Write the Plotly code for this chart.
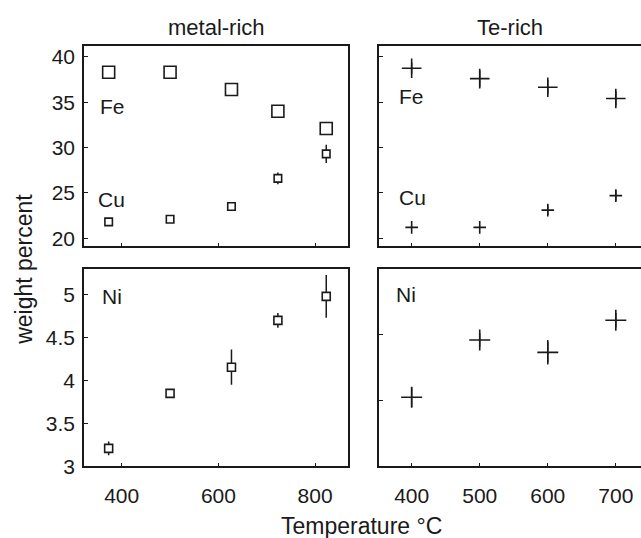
import plotly.graph_objects as go

# ---------------- data ----------------
temp_metal = [373, 500, 627, 723, 823]
fe_metal = [38.3, 38.3, 36.4, 34.0, 32.1]
cu_metal = [21.8, 22.1, 23.5, 26.6, 29.3]
cu_metal_err = [0, 0, 0, 0.65, 1.0]
ni_metal = [3.21, 3.85, 4.155, 4.70, 4.98]
ni_metal_err = [0.08, 0, 0.205, 0.085, 0.25]

temp_te = [400, 500, 600, 700]
fe_te = [38.75, 37.6, 36.65, 35.4]
fe_te_err = [0.6, 0.9, 0.8, 0.8]
cu_te = [21.2, 21.2, 23.1, 24.7]
cu_te_err = [0, 0, 0.55, 0.58]
ni_te = [4.025, 4.46, 4.366, 4.61]
ni_te_err = [0.074, 0.052, 0.093, 0.055]

metal_xticks = [400, 600, 800]
te_xticks = [400, 500, 600, 700]
top_yticks = [20, 25, 30, 35, 40]
ni_metal_yticks = [3, 3.5, 4, 4.5, 5]
ni_te_yticks = [4, 4.5]

W, H = 641, 538
FONT = "Liberation Sans, Arial, sans-serif"
INK = "#1a1a1a"

fig = go.Figure()

def sq(x, y, err, size, xa, ya):
    kw = {}
    if err is not None:
        kw["error_y"] = dict(type="data", array=err, visible=True, width=0,
                             thickness=1.5, color=INK)
    fig.add_trace(go.Scatter(x=x, y=y, mode="markers", xaxis=xa, yaxis=ya,
                             marker=dict(symbol="square", size=size, color="white",
                                         line=dict(color=INK, width=1.6)),
                             showlegend=False, **kw))

def plus(x, y, err, size, xa, ya):
    kw = {}
    if err is not None:
        kw["error_y"] = dict(type="data", array=err, visible=True, width=0,
                             thickness=1.5, color=INK)
    fig.add_trace(go.Scatter(x=x, y=y, mode="markers", xaxis=xa, yaxis=ya,
                             marker=dict(symbol="cross-thin-open", size=size, color=INK,
                                         line=dict(color=INK, width=1.6)),
                             showlegend=False, **kw))

sq(temp_metal, fe_metal, None, 12, "x", "y")
sq(temp_metal, cu_metal, cu_metal_err, 7.5, "x", "y")
plus(temp_te, fe_te, fe_te_err, 14, "x2", "y2")
plus(temp_te, cu_te, cu_te_err, 9, "x2", "y2")
sq(temp_metal, ni_metal, ni_metal_err, 8, "x3", "y3")
plus(temp_te, ni_te, ni_te_err, 15, "x4", "y4")

xl = [84 / W, 348 / W]
xr = [379 / W, 1.0]
yt = [1 - 251 / H, 1 - 46 / H]
yb = [1 - 476 / H, 1 - 274 / H]

axcommon = dict(showgrid=False, zeroline=False, showline=True, linecolor=INK,
                linewidth=1.5, ticks="inside", ticklen=4, tickwidth=1.3,
                tickcolor=INK, tickfont=dict(family=FONT, size=21, color=INK))

fig.update_layout(
    width=W, height=H,
    margin=dict(l=0, r=0, t=0, b=0),
    paper_bgcolor="white", plot_bgcolor="white",
    font=dict(family=FONT, color=INK),
    xaxis=dict(domain=xl, anchor="y", range=[322, 868], tickvals=metal_xticks,
               showticklabels=False, mirror=True, **axcommon),
    yaxis=dict(domain=yt, anchor="x", range=[19.1, 41.2], tickvals=top_yticks,
               mirror=True, ticklabelstandoff=3, **axcommon),
    xaxis2=dict(domain=xr, anchor="y2", range=[352, 737], tickvals=te_xticks,
                showticklabels=False, mirror=True, **axcommon),
    yaxis2=dict(domain=yt, anchor="x2", range=[19.1, 41.2], tickvals=top_yticks,
                showticklabels=False, mirror=False, **axcommon),
    xaxis3=dict(domain=xl, anchor="y3", range=[322, 868], tickvals=metal_xticks,
                mirror=True, ticklabelstandoff=10, **axcommon),
    yaxis3=dict(domain=yb, anchor="x3", range=[3, 5.3], tickvals=ni_metal_yticks,
                mirror=True, ticklabelstandoff=3, **axcommon),
    xaxis4=dict(domain=xr, anchor="y4", range=[352, 737], tickvals=te_xticks,
                mirror=True, ticklabelstandoff=10, **axcommon),
    yaxis4=dict(domain=yb, anchor="x4", range=[3.5, 5.0], tickvals=ni_te_yticks,
                showticklabels=False, mirror=False, **axcommon),
)

def note(text, x, y, size=21, yanchor="middle", **kw):
    fig.add_annotation(text=text, x=x, y=y, xref="paper", yref="paper",
                       xanchor="center", yanchor=yanchor,
                       showarrow=False, font=dict(family=FONT, size=size, color=INK), **kw)

note("metal-rich", 216 / W, 1 - 27 / H, size=22)
note("Te-rich", 510 / W, 1 - 27 / H, size=22)
note("weight percent", 24 / W, 1 - 275 / H, size=23, textangle=-90)
note("Temperature °C", 361 / W, 1 - 522 / H, size=23, yanchor="top")

note("Fe", 112 / W, 1 - 108 / H)
note("Cu", 111 / W, 1 - 203 / H)
note("Fe", 411 / W, 1 - 98 / H)
note("Cu", 412 / W, 1 - 201 / H)
note("Ni", 112 / W, 1 - 302 / H)
note("Ni", 406 / W, 1 - 300 / H)

fig.write_html("out.html", config={"displayModeBar": False},
               post_script="document.body.style.margin='0';document.body.style.overflow='hidden';")
